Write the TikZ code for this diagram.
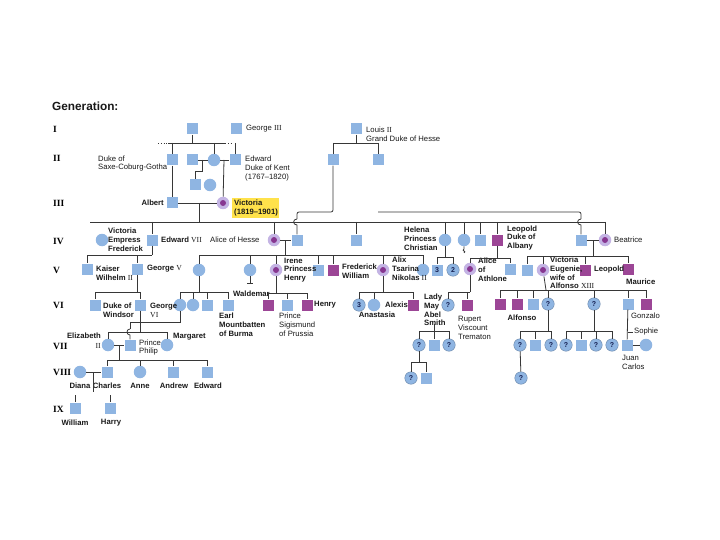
\documentclass[tikz,border=0pt]{standalone}
\usepackage{fontspec}
\setsansfont{Liberation Sans}
\newfontfamily\rom{Liberation Serif}
\definecolor{pblue}{RGB}{143,181,226}
\definecolor{ppurple}{RGB}{156,70,150}
\definecolor{plav}{RGB}{196,180,228}
\definecolor{pdot}{RGB}{135,55,145}
\definecolor{pyel}{RGB}{255,226,75}
\definecolor{navy}{RGB}{20,30,80}
\definecolor{lnc}{RGB}{55,55,55}
\tikzset{
 ln/.style={draw=lnc, line width=0.8pt},
 sq/.style={rectangle, fill=pblue, minimum size=11pt, inner sep=0pt},
 ci/.style={circle, fill=pblue, minimum size=12.5pt, inner sep=0pt},
 psq/.style={rectangle, fill=ppurple, minimum size=11pt, inner sep=0pt},
 car/.style={circle, fill=plav, minimum size=12.5pt, inner sep=0pt,
   path picture={\fill[pdot] (path picture bounding box.center) circle (3pt);}},
 qc/.style={ci, draw=pblue!75!black, line width=0.4pt, font=\sffamily\bfseries\fontsize{7}{7}\selectfont, text=navy},
 qs/.style={sq, font=\sffamily\bfseries\fontsize{7}{7}\selectfont, text=navy},
 lab/.style={font=\sffamily\bfseries\fontsize{7.7}{8.8}\selectfont, align=left, inner sep=0pt, anchor=west, text=black!90},
 labr/.style={lab, font=\sffamily\fontsize{7.7}{8.8}\selectfont},
 labc/.style={lab, anchor=center, align=center},
 gen/.style={font=\rom\bfseries\fontsize{9.5}{10}\selectfont, inner sep=0pt, anchor=west},
}
\begin{document}
\begin{tikzpicture}[x=1pt,y=-1pt]
\useasboundingbox (0,0) rectangle (720,540);
\fill[white] (0,0) rectangle (720,540);

% title and generations
\node[lab, font=\sffamily\bfseries\fontsize{11.8}{13}\selectfont] (title) at (52,106) {Generation:};
\node[gen] (gI) at (53,129) {I};
\node[gen] (gII) at (53,158) {II};
\node[gen] (gIII) at (53,203) {III};
\node[gen] (gIV) at (53,241) {IV};
\node[gen] (gV) at (53,270) {V};
\node[gen] (gVI) at (53,305) {VI};
\node[gen] (gVII) at (53,346) {VII};
\node[gen] (gVIII) at (53,372) {VIII};
\node[gen] (gIX) at (53,409) {IX};

% Victoria highlight
\fill[pyel] (232,198) rectangle (279,218);

% ---------- Generation I ----------
\node[sq] (I1) at (192,129) {};
\node[sq] (G3) at (236,129) {};
\node[sq] (L2) at (356,129) {};
\node[labr] (tG3) at (246,129) {George {\rom III}};
\node[labr] (tL2) at (366,134) {Louis {\rom II}\\Grand Duke of Hesse};

% ---------- Generation II ----------
\node[sq] (DSC) at (172,160) {};
\node[sq] (F) at (192,160) {};
\node[ci] (VSC) at (214,160) {};
\node[sq] (Ed) at (235,160) {};
\node[sq] (k1) at (195,185) {};
\node[ci] (k2) at (210,185) {};
\node[sq] (Ch) at (333,160) {};
\node[sq] (Al2) at (378,160) {};
\node[labr] (tDSC) at (98,163.5) {Duke of\\Saxe-Coburg-Gotha};
\node[labr] (tEd) at (245,168.5) {Edward\\Duke of Kent\\(1767--1820)};

% ---------- Generation III ----------
\node[sq] (Al) at (172,203) {};
\node[car] (Vi) at (223,203) {};
\node[lab, anchor=east] (tAl) at (164,203) {Albert};
\node[lab] (tVi) at (234,208) {Victoria\\(1819--1901)};

% ---------- Generation IV ----------
\node[ci] (VEF) at (102,240) {};
\node[sq] (E7) at (152,240) {};
\node[car] (AH) at (274,240) {};
\node[sq] (L4) at (297,240) {};
\node[sq] (Alf) at (356,240) {};
\node[ci] (He) at (445,240) {};
\node[ci] (Lo) at (464,240) {};
\node[sq] (Ar) at (480,240) {};
\node[psq] (Le) at (497,240) {};
\node[sq] (HB) at (581,240) {};
\node[car] (Be) at (605,240) {};
\node[lab] (tVEF) at (108,240) {Victoria\\Empress\\Frederick};
\node[lab] (tE7) at (161,240) {Edward {\rom\mdseries VII}};
\node[labr] (tAH) at (210,240) {Alice of Hesse};
\node[lab] (tHe) at (404,239) {Helena\\Princess\\Christian};
\node[lab] (tLe) at (507,238) {Leopold\\Duke of\\Albany};
\node[labr] (tBe) at (614,240) {Beatrice};

% ---------- Generation V ----------
\node[sq] (KW) at (87,269) {};
\node[sq] (G5) at (137,269) {};
\node[ci] (Va) at (199,270) {};
\node[ci] (El) at (250,270) {};
\node[car] (Ir) at (276,270) {};
\node[sq] (Er) at (318,270) {};
\node[psq] (FW) at (333,270) {};
\node[car] (Ax) at (383,270) {};
\node[ci] (Ma) at (423,270) {};
\node[qs] (H3) at (437,270) {3};
\node[qc] (H2) at (453,270) {2};
\node[car] (AA) at (470,269) {};
\node[sq] (CE) at (510,269) {};
\node[sq] (Bs) at (527,270) {};
\node[car] (VE) at (543,270) {};
\node[psq] (Lp) at (585,270) {};
\node[psq] (Mu) at (628,269) {};
\node[lab] (tKW) at (96,273.5) {Kaiser\\Wilhelm {\rom\mdseries II}};
\node[lab] (tG5) at (147,269) {George {\rom\mdseries V}};
\node[lab] (tIr) at (284,270) {Irene\\Princess\\Henry};
\node[lab] (tFW) at (342,271) {Frederick\\William};
\node[lab] (tAx) at (392,269) {Alix\\Tsarina\\Nikolas {\rom\mdseries II}};
\node[lab] (tAA) at (478,270) {Alice\\of\\Athlone};
\node[lab] (tVE) at (550,273) {Victoria\\Eugenie,\\wife of\\Alfonso {\rom\mdseries XIII}};
\node[lab] (tLp) at (594,270) {Leopold};
\node[lab] (tMu) at (626,282) {Maurice};

% ---------- Generation VI ----------
\node[sq] (DW) at (95,305) {};
\node[sq] (G6) at (140,305) {};
\node[ci] (c1) at (180,305) {};
\node[ci] (c2) at (193,305) {};
\node[sq] (s1) at (207,305) {};
\node[sq] (EM) at (228,305) {};
\node[psq] (Wa) at (268,305) {};
\node[sq] (PS) at (287,305) {};
\node[psq] (Hn) at (307,305) {};
\node[qc] (A3) at (359,305) {3};
\node[ci] (An) at (374,305) {};
\node[psq] (Ale) at (413,305) {};
\node[qc] (LM) at (448,305) {?};
\node[psq] (RT) at (467,305) {};
\node[psq] (p1) at (500,304) {};
\node[psq] (p2) at (517,304) {};
\node[sq] (Afs) at (533,304) {};
\node[qc] (q1) at (548,304) {?};
\node[qc] (q2) at (594,304) {?};
\node[sq] (Ju) at (628,304) {};
\node[psq] (Gz) at (646,304) {};
\node[lab] (tDW) at (103,310) {Duke of\\Windsor};
\node[lab] (tG6) at (150,310) {George\\{\rom\mdseries VI}};
\node[lab, fill=white, inner xsep=1pt] (tWa) at (232,294) {Waldemar};
\node[lab] (tEM) at (219,325) {Earl\\Mountbatten\\of Burma};
\node[labr] (tPS) at (279,325) {Prince\\Sigismund\\of Prussia};
\node[lab] (tHn) at (314,305) {Henry};
\node[lab] (tAle) at (385,305) {Alexis};
\node[labc] (tAn) at (377,315) {Anastasia};
\node[lab] (tLM) at (424,310) {Lady\\May\\Abel\\Smith};
\node[labr] (tRT) at (458,328) {Rupert\\Viscount\\Trematon};
\node[labc] (tAfs) at (522,318) {Alfonso};
\node[labr] (tGz) at (631,316) {Gonzalo};
\node[labr] (tSo) at (634,332) {Sophie};

% ---------- Generation VII ----------
\node[ci] (E2) at (108,345) {};
\node[sq] (PP) at (130,345) {};
\node[ci] (Mg) at (167,345) {};
\node[qc] (m1) at (419,345) {?};
\node[sq] (m2) at (434,345) {};
\node[qc] (m3) at (449,345) {?};
\node[qc] (r1) at (520,345) {?};
\node[sq] (r2) at (535,345) {};
\node[qc] (r3) at (551,345) {?};
\node[qc] (t1) at (566,345) {?};
\node[sq] (t2) at (581,345) {};
\node[qc] (t3) at (596,345) {?};
\node[qc] (t4) at (612,345) {?};
\node[sq] (JC) at (627,345) {};
\node[ci] (So) at (646,345) {};
\node[lab, anchor=east] (tE2) at (101,336) {Elizabeth};
\node[lab, anchor=east] (tE2b) at (101,345.5) {\rom\mdseries II};
\node[labr] (tPP) at (139,347.5) {Prince\\Philip};
\node[lab] (tMg) at (173,337) {Margaret};
\node[labr] (tJC) at (622,362) {Juan\\Carlos};

% ---------- Generation VIII ----------
\node[ci] (Di) at (80,372) {};
\node[sq] (Cs) at (107,372) {};
\node[ci] (Ann) at (140,372) {};
\node[sq] (And) at (173,372) {};
\node[sq] (Edw) at (207,372) {};
\node[qc] (v1) at (411,378) {?};
\node[sq] (v2) at (426,378) {};
\node[qc] (w1) at (521,378) {?};
\node[labc] (tDi) at (80,386) {Diana};
\node[labc] (tCs) at (107,386) {Charles};
\node[labc] (tAnn) at (140,386) {Anne};
\node[labc] (tAnd) at (174,386) {Andrew};
\node[labc] (tEdw) at (208,386) {Edward};

% ---------- Generation IX ----------
\node[sq] (Wi) at (75,408) {};
\node[sq] (Ha) at (110,408) {};
\node[labc] (tWi) at (75,423) {William};
\node[labc] (tHa) at (111,423) {Harry};

% ================= connectors =================
% generation I-II
\draw[ln, dotted] (158,143) -- (168,143);
\draw[ln] (168,143) -- (225,143);
\draw[ln, dotted] (225,143) -- (233,143);
\draw[ln] (I1) -- (192,143);
\draw[ln] (172,143) -- (DSC);
\draw[ln] (214,143) -- (VSC);
\draw[ln] (235,143) -- (Ed);
\draw[ln] (F) -- (VSC);
\draw[ln] (VSC) -- (Ed);
\draw[ln] (202,160) -- (202,171) -- (195,171) -- (k1);
\draw[ln] (L2) -- (356,143);
\draw[ln] (333,143) -- (378,143);
\draw[ln] (333,143) -- (Ch);
\draw[ln] (378,143) -- (Al2);
% generation II-III
\draw[ln] (DSC) -- (Al);
\draw[ln] (224,160) -- (Vi);
\draw[ln] (Al) -- (Vi);
\draw[ln] (199,203) -- (199,222);
% main sibship
\draw[ln] (90,222) -- (605,222);
\foreach \n in {E7,AH,Alf,He,Lo,Ar,Le,Be} \draw[ln] (\n |- 0,222) -- (\n);
% Hesse & Battenberg lines with hops
\draw[ln, rounded corners=2pt] (Ch) -- (333,212) -- (297,212) -- (297,219);
\draw[ln] (297,219) .. controls (292.5,219) and (292.5,225) .. (297,225) -- (L4);
\draw[ln, rounded corners=2pt] (378,212) -- (581,212) -- (581,219);
\draw[ln] (581,219) .. controls (576.5,219) and (576.5,225) .. (581,225) -- (HB);
% generation IV-V
\draw[ln] (E7) -- (152,255);
\draw[ln] (87,255) -- (152,255);
\draw[ln] (87,255) -- (KW);
\draw[ln] (137,255) -- (G5);
\draw[ln] (AH) -- (L4);
\draw[ln] (285,240) -- (285,255);
\draw[ln] (199,255) -- (423,255);
\foreach \n in {Va,El,Ir,Er,FW,Ax,Ma} \draw[ln] (\n |- 0,255) -- (\n);
\draw[ln] (El) -- (250,283);
\draw[ln] (247,283) -- (253,283);
\draw[ln] (He) -- (445,257);
\draw[ln] (437,257) -- (453,257);
\draw[ln] (437,257) -- (H3);
\draw[ln] (453,257) -- (H2);
\draw[ln] (Lo) -- (464,249) .. controls (461,251) and (467,251) .. (464,253);
\draw[ln] (Le) -- (497,258);
\draw[ln] (470,258) -- (510,258);
\draw[ln] (470,258) -- (AA);
\draw[ln] (510,258) -- (CE);
\draw[ln] (HB) -- (Be);
\draw[ln] (593,240) -- (593,256);
\draw[ln] (527,256) -- (628,256);
\foreach \n in {Bs,VE,Lp,Mu} \draw[ln] (\n |- 0,256) -- (\n);
% generation V-VI
\draw[ln] (G5) -- (137,292);
\draw[ln] (95,292) -- (140,292);
\draw[ln] (95,292) -- (DW);
\draw[ln] (140,292) -- (G6);
\draw[ln] (Va) -- (199,292);
\draw[ln] (180,292) -- (228,292);
\foreach \n in {c1,c2,s1} \draw[ln] (\n |- 0,292) -- (\n);
\draw[ln] (228,292) -- (EM);
\draw[ln] (Ir) -- (276,293);
\draw[ln] (268,293) -- (307,293);
\foreach \n in {Wa,PS,Hn} \draw[ln] (\n |- 0,293) -- (\n);
\draw[ln] (Ax) -- (383,292);
\draw[ln] (359,292) -- (413,292);
\foreach \n in {A3,An,Ale} \draw[ln] (\n |- 0,292) -- (\n);
\draw[ln] (AA) -- (470,292);
\draw[ln] (448,292) -- (470,292);
\draw[ln] (448,292) -- (LM);
\draw[ln] (467,292) -- (RT);
\draw[ln] (VE) -- (546,290);
\draw[ln] (500,290) -- (646,290);
\foreach \n in {p1,p2,Afs,q1,q2,Ju,Gz} \draw[ln] (\n |- 0,290) -- (\n);
% generation VI-VII
\draw[ln] (c1) -- (180,322) -- (140,322);
\draw[ln] (140,322) -- (130,322) -- (130,329);
\draw[ln] (130,329) .. controls (126,329) and (126,335) .. (130,335) -- (PP);
\draw[ln] (G6) -- (140,332);
\draw[ln] (108,332) -- (167,332);
\draw[ln] (108,332) -- (E2);
\draw[ln] (167,332) -- (Mg);
\draw[ln] (E2) -- (PP);
\draw[ln] (119,345) -- (119,360);
\draw[ln] (107,360) -- (207,360);
\foreach \n in {Cs,Ann,And,Edw} \draw[ln] (\n |- 0,360) -- (\n);
\draw[ln] (Di) -- (Cs);
\draw[ln] (93,372) -- (93,392);
\draw[ln] (75,395) -- (Wi);
\draw[ln] (110,395) -- (Ha);
% Lady May line
\draw[ln] (434,324) -- (434,331);
\draw[ln] (419,331) -- (449,331);
\foreach \n in {m1,m2,m3} \draw[ln] (\n |- 0,331) -- (\n);
\draw[ln] (m1) -- (419,362);
\draw[ln] (411,362) -- (426,362);
\draw[ln] (411,362) -- (v1);
\draw[ln] (426,362) -- (v2);
% Spanish lines
\draw[ln] (q1) -- (548,331);
\draw[ln] (520,331) -- (551,331);
\foreach \n in {r1,r2,r3} \draw[ln] (\n |- 0,331) -- (\n);
\draw[ln] (r1) -- (w1);
\draw[ln] (q2) -- (594,331);
\draw[ln] (566,331) -- (612,331);
\foreach \n in {t1,t2,t3,t4} \draw[ln] (\n |- 0,331) -- (\n);
\draw[ln] (Ju) -- (JC);
\draw[ln] (JC) -- (So);
\draw[ln] (628,332) -- (633,332);
\end{tikzpicture}
\end{document}
